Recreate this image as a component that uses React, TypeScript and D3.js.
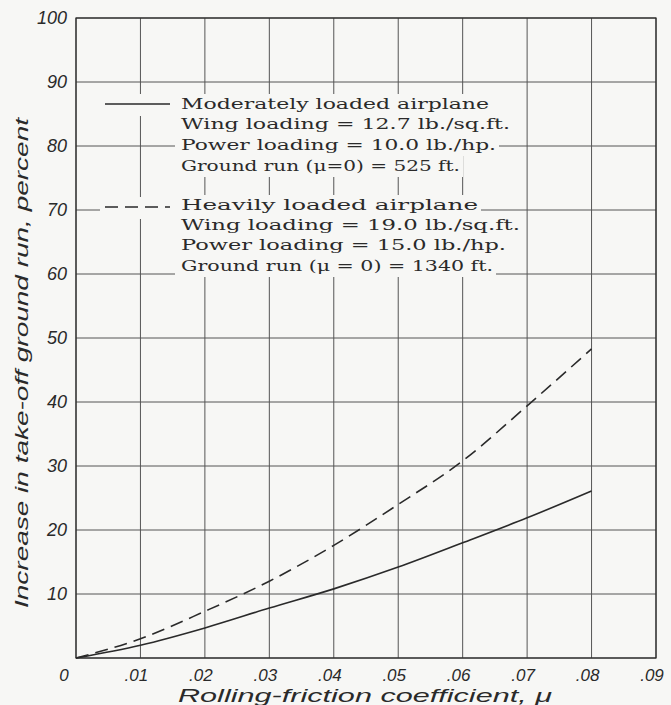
import React from "react";
import * as d3 from "d3";

// ---- data ----
const muValues = [0, 0.01, 0.02, 0.03, 0.04, 0.05, 0.06, 0.07, 0.08];
const moderateValues = [0, 2.0, 4.7, 7.8, 10.8, 14.2, 18.0, 21.9, 26.1];
const heavyValues = [0, 3.0, 7.3, 12.0, 17.6, 24.0, 30.8, 39.4, 48.3];
const xTickValues = [0, 0.01, 0.02, 0.03, 0.04, 0.05, 0.06, 0.07, 0.08, 0.09];
const xTickLabels = ["0", ".01", ".02", ".03", ".04", ".05", ".06", ".07", ".08", ".09"];
const yTickValues = [10, 20, 30, 40, 50, 60, 70, 80, 90, 100];
const yTickLabels = ["10", "20", "30", "40", "50", "60", "70", "80", "90", "100"];
const moderateLegend = [
  "Moderately loaded airplane",
  "Wing loading = 12.7 lb./sq.ft.",
  "Power loading = 10.0 lb./hp.",
  "Ground run (\u03bc=0) = 525 ft.",
];
const heavyLegend = [
  "Heavily loaded airplane",
  "Wing loading = 19.0 lb./sq.ft.",
  "Power loading = 15.0 lb./hp.",
  "Ground run (\u03bc = 0) = 1340 ft.",
];
const xTitle = "Rolling-friction coefficient, \u03bc";
const yTitle = "Increase in take-off ground run, percent";

// ---- layout (not data) ----
const W = 671;
const H = 705;
const left = 76;
const right = 656;
const top = 18;
const bottom = 658;
const legendTextX = 181;
const legendWidthsA = [308, 329, 315, 279];
const legendWidthsB = [297, 339, 325, 312];
const legendBaselinesA = [109, 129, 150, 171];
const legendBaselinesB = [210, 230, 250, 271];

const ink = "#2a2a2a";
const gridColor = "#555";
const bg = "#f7f7f5";

export default function App() {
  const x = d3.scaleLinear().domain([0, 0.09]).range([left, right]);
  const y = d3.scaleLinear().domain([0, 100]).range([bottom, top]);
  const line = d3
    .line<number>()
    .x((_, i) => x(muValues[i]))
    .y((d) => y(d))
    .curve(d3.curveMonotoneX);

  const tickFont = "'Liberation Sans', Arial, sans-serif";
  const legendFont = "'DejaVu Serif', serif";

  const legendMask = (i: number, baselines: number[], widths: number[], key: string) => (
    <rect key={key} x={legendTextX - 6} y={baselines[i] - 15} width={widths[i] + 9} height={21} fill={bg} />
  );
  const legendText = (txt: string, i: number, baselines: number[], widths: number[], key: string) => (
    <text
      key={key}
      x={legendTextX}
      y={baselines[i]}
      textLength={widths[i]}
      lengthAdjust="spacingAndGlyphs"
      fontFamily={legendFont}
      fontSize={14.5}
      fill={ink}
    >
      {txt}
    </text>
  );

  return (
    <svg
      width={W}
      height={H}
      style={{ position: "absolute", left: 0, top: 0, background: bg }}
    >
      <rect x={0} y={0} width={W} height={H} fill={bg} />
      {/* grid */}
      {xTickValues.map((v) => (
        <line key={"gx" + v} x1={x(v)} x2={x(v)} y1={top} y2={bottom} stroke={gridColor} strokeWidth={1} />
      ))}
      {[0, ...yTickValues].map((v) => (
        <line key={"gy" + v} x1={left} x2={right} y1={y(v)} y2={y(v)} stroke={gridColor} strokeWidth={1} />
      ))}
      <rect x={left} y={top} width={right - left} height={bottom - top} fill="none" stroke={ink} strokeWidth={1.2} />

      {/* legend masks */}
      <rect x={100} y={94} width={78} height={22} fill={bg} />
      <rect x={100} y={197} width={78} height={22} fill={bg} />
      {moderateLegend.map((t, i) => legendMask(i, legendBaselinesA, legendWidthsA, "ma" + i))}
      {heavyLegend.map((t, i) => legendMask(i, legendBaselinesB, legendWidthsB, "mb" + i))}

      {/* legend samples */}
      <line x1={105} x2={170} y1={104} y2={104} stroke={ink} strokeWidth={1.4} />
      <line x1={105} x2={170} y1={207} y2={207} stroke={ink} strokeWidth={1.4} strokeDasharray="13,7" />
      {moderateLegend.map((t, i) => legendText(t, i, legendBaselinesA, legendWidthsA, "ta" + i))}
      {heavyLegend.map((t, i) => legendText(t, i, legendBaselinesB, legendWidthsB, "tb" + i))}

      {/* curves */}
      <path d={line(moderateValues) || ""} fill="none" stroke={ink} strokeWidth={1.6} />
      <path d={line(heavyValues) || ""} fill="none" stroke={ink} strokeWidth={1.6} strokeDasharray="13,7" />

      {/* y tick labels */}
      {yTickValues.map((v, i) => (
        <text
          key={"yl" + v}
          x={left - 9}
          y={y(v)}
          dy="0.36em"
          textAnchor="end"
          fontFamily={tickFont}
          fontStyle="italic"
          fontSize={18}
          fill={ink}
        >
          {yTickLabels[i]}
        </text>
      ))}
      {/* x tick labels */}
      {xTickValues.map((v, i) => (
        <text
          key={"xl" + v}
          x={v === 0 ? x(v) - 12 : x(v) - 4}
          y={681}
          textAnchor="middle"
          fontFamily={tickFont}
          fontStyle="italic"
          fontSize={17}
          fill={ink}
        >
          {xTickLabels[i]}
        </text>
      ))}
      {/* axis titles */}
      <text
        x={365}
        y={702}
        textAnchor="middle"
        textLength={374}
        lengthAdjust="spacingAndGlyphs"
        fontFamily={tickFont}
        fontStyle="italic"
        fontSize={18}
        fill={ink}
      >
        {xTitle}
      </text>
      <text
        transform="translate(28,363) rotate(-90)"
        textAnchor="middle"
        textLength={490}
        lengthAdjust="spacingAndGlyphs"
        fontFamily={tickFont}
        fontStyle="italic"
        fontSize={19}
        fill={ink}
      >
        {yTitle}
      </text>
    </svg>
  );
}
